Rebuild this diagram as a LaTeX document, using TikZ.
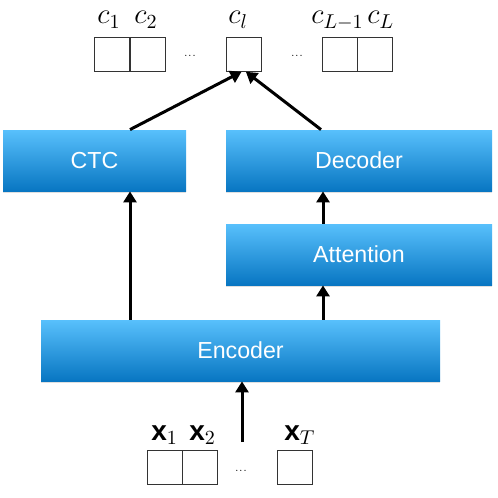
\documentclass[tikz,border=0pt]{standalone}
\usepackage{fontspec}
\setsansfont{Liberation Sans}
\usetikzlibrary{shadows,arrows.meta}
\definecolor{btop}{RGB}{88,192,252}
\definecolor{bbot}{RGB}{8,118,194}
\newcommand\bxvec{{\sffamily\bfseries\fontsize{14}{16}\selectfont x}}
\begin{document}
\begin{tikzpicture}[x=0.5pt,y=-0.5pt,
  blk/.style={rectangle, inner sep=0pt, top color=btop, bottom color=bbot,
    text=white, font=\sffamily\fontsize{11.6}{13}\selectfont,
    drop shadow={opacity=0.25, shadow xshift=0pt, shadow yshift=-0.8pt}},
  cell/.style={rectangle, draw=black!80, line width=0.5pt, inner sep=0pt,
    minimum width=17.5pt, minimum height=16.8pt},
  lab/.style={font=\fontsize{14.5}{16}\selectfont, inner sep=0pt, anchor=base west},
  dots/.style={font=\fontsize{5}{6}\selectfont, inner sep=0pt},
  arr/.style={line width=1.5pt, -{Triangle[length=5.5pt,width=6.5pt]}}]
\useasboundingbox (0,0) rectangle (498,498);
% blocks
\node[blk, minimum width=91.5pt, minimum height=30.5pt] (ctc) at (94.5,160.5) {CTC};
\node[blk, minimum width=133pt, minimum height=30.5pt] (dec) at (359,160.5) {Decoder};
\node[blk, minimum width=133pt, minimum height=30.5pt] (att) at (359,254.5) {Attention};
\node[blk, minimum width=199.5pt, minimum height=30.5pt] (enc) at (240.5,350.5) {Encoder};
% top cells
\node[cell] (c1) at (112,54.5) {};
\node[cell] (c2) at (147.5,54.5) {};
\node[cell] (cl) at (243.5,54.5) {};
\node[cell] (cLm) at (339.5,54.5) {};
\node[cell] (cL) at (374.5,54.5) {};
\node[dots] (d1) at (190,56) {...};
\node[dots] (d2) at (297,56) {...};
\node[lab] (lc1) at (97,24) {$c_1$};
\node[lab] (lc2) at (134,24) {$c_2$};
\node[lab] (lcl) at (228,24) {$c_l$};
\node[lab] (lcLm) at (311,24) {$c_{L-1}$};
\node[lab] (lcL) at (367,24) {$c_L$};
% bottom cells
\node[cell] (x1) at (164.5,467.5) {};
\node[cell] (x2) at (200,467.5) {};
\node[cell] (xT) at (295,467.5) {};
\node[dots] (d3) at (241,471) {...};
\node[lab] (lx1) at (151,440) {\bxvec$_1$};
\node[lab] (lx2) at (189,440) {\bxvec$_2$};
\node[lab] (lxT) at (284,440) {\bxvec$_T$};
% arrows
\coordinate (in) at (242,442);
\draw[arr] (in) -- (enc.south -| in);
\draw[arr] (enc.north -| 130,0) -- (ctc.south -| 130,0);
\draw[arr] (enc.north -| 323,0) -- (att.south -| 323,0);
\draw[arr] (att.north -| 323,0) -- (dec.south -| 323,0);
\draw[arr] (ctc.north -| 130,0) -- ([xshift=-1pt]cl.south);
\draw[arr] (dec.north -| 321,0) -- ([xshift=1.2pt]cl.south);
\end{tikzpicture}
\end{document}
